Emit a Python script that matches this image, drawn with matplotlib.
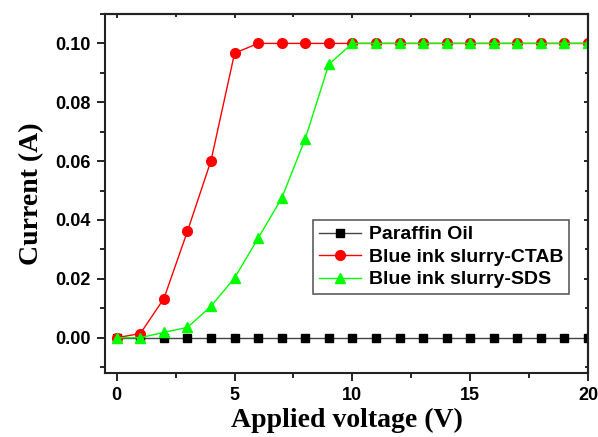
import matplotlib.pyplot as plt
from matplotlib.ticker import MultipleLocator

voltage = list(range(0, 21))
paraffin = [0.0] * 21
ctab = [0.0, 0.0014, 0.0133, 0.0362, 0.0602, 0.0967] + [0.1] * 15
sds = [0.0, 0.0, 0.0018, 0.0035, 0.0107, 0.0203, 0.0338, 0.0474, 0.0676, 0.0929] + [0.1] * 11

fig = plt.figure(figsize=(5.98, 4.37), dpi=100)
ax = fig.add_axes([0.1756, 0.1465, 0.8077, 0.8215])

ax.plot(voltage, paraffin, 's-', color='#444444', mfc='black', mec='black', lw=1, ms=5.5,
        label='Paraffin Oil')
ax.plot(voltage, ctab, 'o-', color='#ff0000', lw=1, ms=7, label='Blue ink slurry-CTAB')
ax.plot(voltage, sds, '^-', color='#00ff00', lw=1, ms=7.5, label='Blue ink slurry-SDS')

ax.set_xlim(-0.5, 20)
ax.set_ylim(-0.012, 0.11)
ax.xaxis.set_major_locator(MultipleLocator(5))
ax.xaxis.set_minor_locator(MultipleLocator(2.5))
ax.yaxis.set_major_locator(MultipleLocator(0.02))
ax.yaxis.set_minor_locator(MultipleLocator(0.01))
ax.yaxis.set_major_formatter(plt.FormatStrFormatter('%.2f'))

# left/bottom ticks point out, top/right ticks are short and inward
ax.tick_params(which='both', direction='out', width=1.2)
ax.tick_params(which='major', length=6, pad=4)
ax.tick_params(which='minor', length=3.5)
sec_x = ax.secondary_xaxis('top')
sec_y = ax.secondary_yaxis('right')
for sec in (sec_x, sec_y):
    sec.tick_params(which='both', direction='in', width=1.2, labeltop=False, labelright=False)
    sec.tick_params(which='major', length=3)
    sec.tick_params(which='minor', length=2)
sec_x.xaxis.set_major_locator(MultipleLocator(5))
sec_x.xaxis.set_minor_locator(MultipleLocator(2.5))
sec_y.yaxis.set_major_locator(MultipleLocator(0.02))
sec_y.yaxis.set_minor_locator(MultipleLocator(0.01))
sec_x.set_xticklabels([])
sec_y.set_yticklabels([])

for lbl in ax.get_xticklabels() + ax.get_yticklabels():
    lbl.set_fontfamily('Liberation Sans')
    lbl.set_fontweight('bold')
    lbl.set_fontsize(13)
for s in list(ax.spines.values()) + [sec_x.spines['top'], sec_y.spines['right']]:
    s.set_linewidth(1.5)
    s.set_color('#222222')

ax.set_xlabel('Applied voltage (V)', fontfamily='Liberation Serif', fontweight='bold', fontsize=20, labelpad=3)
ax.set_ylabel('Current (A)', fontfamily='Liberation Serif', fontweight='bold', fontsize=20, labelpad=8)

leg = ax.legend(loc='upper left', bbox_to_anchor=(0.43, 0.426), fancybox=False,
                prop={'family': 'Liberation Sans', 'weight': 'bold', 'size': 14},
                handlelength=2.2, borderpad=0.3, labelspacing=0.25, handletextpad=0.4,
                borderaxespad=0)
leg.get_frame().set_edgecolor('#333333')
leg.get_frame().set_linewidth(1.2)

fig.savefig('out.png', dpi=100)
